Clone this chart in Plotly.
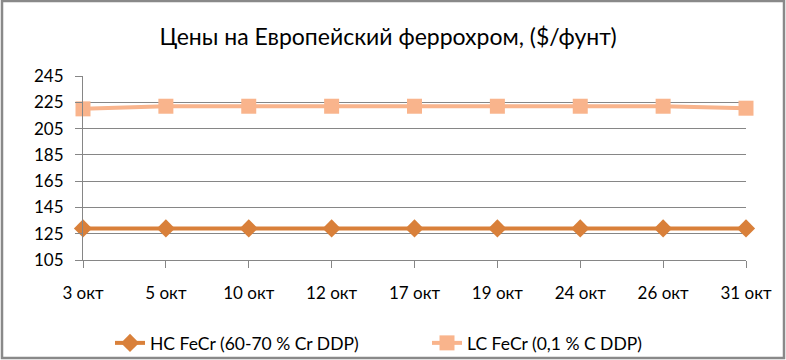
import plotly.graph_objects as go

categories = ["3 окт", "5 окт", "10 окт", "12 окт", "17 окт", "19 окт", "24 окт", "26 окт", "31 окт"]
hc_fecr = [129, 129, 129, 129, 129, 129, 129, 129, 129]
lc_fecr = [220, 222, 222, 222, 222, 222, 222, 222, 220.5]
y_ticks = [105, 125, 145, 165, 185, 205, 225, 245]

W, H = 786, 360
L, R, T, B = 83, 40, 76, 100
FONT = "Lato"
GRAY = "#868686"

fig = go.Figure()
fig.add_trace(go.Scatter(
    x=categories, y=hc_fecr, name="HC FeCr (60-70 % Cr DDP)", legend="legend",
    mode="lines+markers", line=dict(color="#D9803A", width=4),
    marker=dict(symbol="diamond", size=14, color="#D9803A"), cliponaxis=False))
fig.add_trace(go.Scatter(
    x=categories, y=lc_fecr, name="LC FeCr (0,1 % C DDP)", legend="legend2",
    mode="lines+markers", line=dict(color="#F9B48C", width=4),
    marker=dict(symbol="square", size=15, color="#F9B48C"), cliponaxis=False))

pw = W - L - R
ph = H - T - B
fig.add_shape(type="rect", xref="paper", yref="paper",
              x0=(2 - L) / pw, x1=(784 - L) / pw,
              y0=(H - B - 358) / ph, y1=(H - B - 1) / ph,
              line=dict(color="#898989", width=2.5), layer="below")

legend_common = dict(orientation="h", xanchor="left", yanchor="middle",
                     xref="container", yref="container", bgcolor="rgba(0,0,0,0)",
                     font=dict(size=17.5, family=FONT, color="#000000"), itemwidth=30)

fig.update_layout(
    width=W, height=H, margin=dict(l=L, r=R, t=T, b=B, autoexpand=False),
    paper_bgcolor="white", plot_bgcolor="white",
    font=dict(family=FONT, color="#000000", size=16),
    title=dict(text="Цены на Европейский феррохром, ($/фунт)", x=388 / W, xanchor="center",
               y=1 - 37 / H, yanchor="middle", xref="container", yref="container",
               font=dict(size=23, family=FONT)),
    showlegend=True,
    legend=dict(x=110 / W, y=1 - 343 / H, **legend_common),
    legend2=dict(x=427 / W, y=1 - 343 / H, **legend_common),
    xaxis=dict(type="category", range=[0, 8], showgrid=False, showline=True, linecolor=GRAY,
               ticks="outside", ticklen=7, tickcolor=GRAY, tickfont=dict(size=17),
               ticklabelstandoff=11, zeroline=False, automargin=False),
    yaxis=dict(range=[105, 245], tickvals=y_ticks, showgrid=True, gridcolor=GRAY, gridwidth=1,
               showline=True, linecolor=GRAY, ticks="outside", ticklen=7, tickcolor=GRAY,
               tickfont=dict(size=17), ticklabelstandoff=8, zeroline=False, automargin=False),
)

fig.write_html("out.html", config={"displayModeBar": False},
               post_script="document.body.style.margin='0';")
